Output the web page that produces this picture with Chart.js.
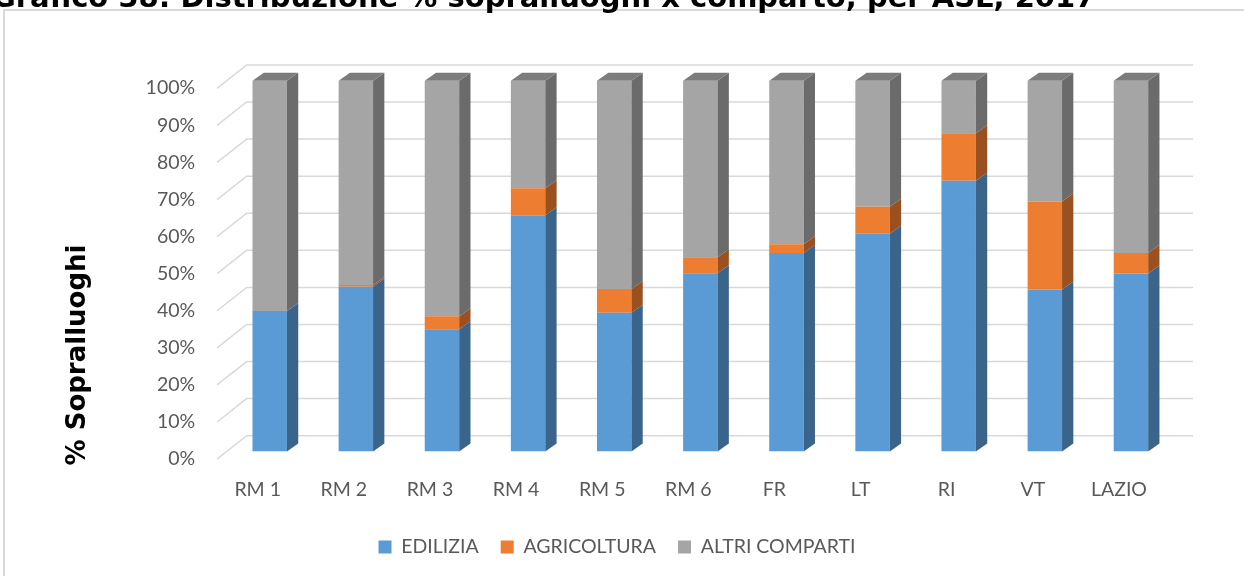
<!DOCTYPE html>
<html>
<head>
<meta charset="utf-8">
<script src="https://cdn.jsdelivr.net/npm/chart.js@4"></script>
<style>
  body { margin: 0; background: #fff; }
  #wrap { position: relative; width: 1244px; height: 576px; }
</style>
</head>
<body>
<div id="wrap"><canvas id="myChart"></canvas></div>
<script>
"use strict"
// ASL / territori
const categorie = ["RM 1", "RM 2", "RM 3", "RM 4", "RM 5", "RM 6", "FR", "LT", "RI", "VT", "LAZIO"]
// percentuali sopralluoghi per comparto
const edilizia = [37.9, 44.4, 33.0, 63.7, 37.4, 48.1, 53.5, 58.7, 73.0, 43.7, 48.0]
const agricoltura = [0, 0.5, 3.5, 7.3, 6.4, 4.3, 2.4, 7.3, 12.8, 23.7, 5.5]
const altriComparti = [62.1, 55.1, 63.5, 29.0, 56.2, 47.6, 44.1, 34.0, 14.2, 32.6, 46.5]
const tickPercent = [0, 10, 20, 30, 40, 50, 60, 70, 80, 90, 100]

const titoloGrafico = "Grafico 38: Distribuzione % sopralluoghi x comparto, per ASL, 2017"
const titoloAsseY = "% Sopralluoghi"

const colFront = ["#5b9bd5", "#ed7d31", "#a5a5a5"]
const colSide = ["#3b648b", "#9a511f", "#6b6b6b"]
const colTop = "#7c7c7c"
const DX = 11.3, DY = -8 // profondità delle barre

// cornice, titolo tagliato e titolo asse Y
const decorPlugin = {
    id: "decor",
    beforeDraw(chart) {
        const ctx = chart.ctx
        ctx.save()
        ctx.strokeStyle = "#d9d9d9"
        ctx.lineWidth = 2
        ctx.beginPath()
        ctx.moveTo(4, 600); ctx.lineTo(4, 10); ctx.lineTo(1250, 10)
        ctx.stroke()
        ctx.fillStyle = "#000"
        ctx.font = "bold 29px 'DejaVu Sans'"
        ctx.textBaseline = "alphabetic"
        ctx.fillText(titoloGrafico, -8, 6.5)
        ctx.restore()
    },
    afterDraw(chart) {
        const ctx = chart.ctx
        ctx.save()
        ctx.translate(78, 355)
        ctx.rotate(-Math.PI / 2)
        ctx.fillStyle = "#000"
        ctx.font = "bold 26px 'DejaVu Sans'"
        ctx.textAlign = "center"
        ctx.textBaseline = "middle"
        ctx.fillText(titoloAsseY, 0, 0)
        ctx.restore()
    }
}

// griglia sulla parete di fondo + linee diagonali del pavimento
const gridPlugin = {
    id: "grid3d",
    beforeDatasetsDraw(chart) {
        const ctx = chart.ctx
        const a = chart.chartArea
        const ys = chart.scales.y
        ctx.save()
        ctx.strokeStyle = "#d9d9d9"
        ctx.lineWidth = 1.5
        tickPercent.forEach(v => {
            const py = ys.getPixelForValue(v)
            ctx.beginPath()
            ctx.moveTo(a.left - 9.6, py + 7.6)
            ctx.lineTo(a.left + 20, py - 15.8)
            ctx.lineTo(a.right + 19, py - 15.8)
            ctx.stroke()
        })
        ctx.restore()
    },
    afterDatasetsDraw(chart) {
        const ctx = chart.ctx
        ctx.save()
        const n = chart.data.labels.length
        for (let i = 0; i < n; i++) {
            let topBar = null
            chart.data.datasets.forEach((ds, d) => {
                const el = chart.getDatasetMeta(d).data[i]
                if (!el || Math.abs(el.base - el.y) < 0.01) return
                const xr = el.x + el.width / 2
                ctx.fillStyle = colSide[d]
                ctx.beginPath()
                ctx.moveTo(xr, el.y)
                ctx.lineTo(xr + DX, el.y + DY)
                ctx.lineTo(xr + DX, el.base + DY)
                ctx.lineTo(xr, el.base)
                ctx.closePath()
                ctx.fill()
                topBar = el
            })
            if (topBar) {
                const xl = topBar.x - topBar.width / 2
                const xr = topBar.x + topBar.width / 2
                ctx.fillStyle = colTop
                ctx.beginPath()
                ctx.moveTo(xl, topBar.y)
                ctx.lineTo(xr, topBar.y)
                ctx.lineTo(xr + DX, topBar.y + DY)
                ctx.lineTo(xl + DX, topBar.y + DY)
                ctx.closePath()
                ctx.fill()
            }
        }
        ctx.restore()
    }
}

const my_data = {
    labels: categorie,
    datasets: [
        { label: "EDILIZIA", data: edilizia, backgroundColor: colFront[0] },
        { label: "AGRICOLTURA", data: agricoltura, backgroundColor: colFront[1] },
        { label: "ALTRI COMPARTI", data: altriComparti, backgroundColor: colFront[2] }
    ]
}

const tickFont = { family: "Lato", size: 19.5 }

const config = {
    type: "bar",
    data: my_data,
    options: {
        responsive: true,
        maintainAspectRatio: false,
        animation: false,
        events: [],
        datasets: { bar: { categoryPercentage: 1, barPercentage: 0.4, borderWidth: 0 } },
        layout: { padding: { left: 60, right: 70, top: 80.7, bottom: 9.25 } },
        scales: {
            x: {
                stacked: true,
                grid: { display: false, drawTicks: false },
                border: { display: false },
                ticks: { color: "#595959", font: tickFont, padding: 27, labelOffset: -12, maxRotation: 0 },
                afterFit: s => { s.height = 63.75 }
            },
            y: {
                stacked: true,
                min: 0,
                max: 100,
                grid: { display: false, drawTicks: false },
                border: { display: false },
                ticks: {
                    color: "#595959", font: tickFont, padding: 31.5, labelOffset: 7.5,
                    stepSize: 10, callback: v => v + "%"
                },
                afterFit: s => { s.width = 166.65 }
            }
        },
        plugins: {
            legend: {
                position: "bottom",
                labels: { color: "#595959", font: tickFont, boxWidth: 13, boxHeight: 13, padding: 22 }
            },
            tooltip: { enabled: false }
        }
    },
    plugins: [decorPlugin, gridPlugin]
}

new Chart(document.getElementById("myChart"), config)
</script>
</body>
</html>
